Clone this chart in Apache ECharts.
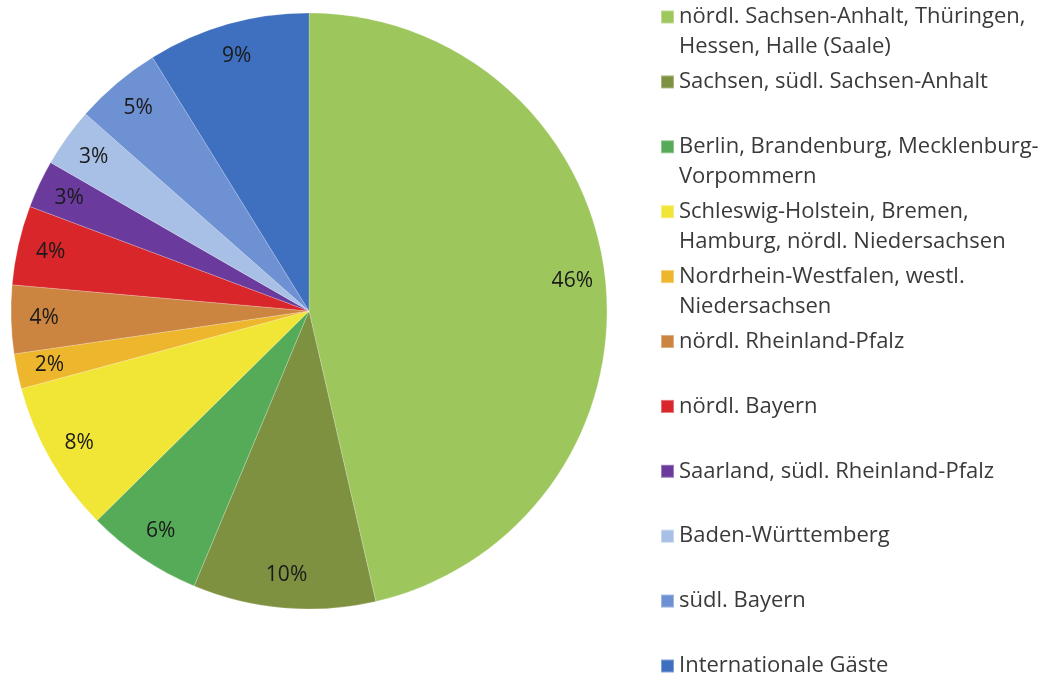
<!DOCTYPE html>
<html>
<head>
<meta charset="utf-8">
<script src="https://cdn.jsdelivr.net/npm/echarts@6/dist/echarts.min.js"></script>
<style>
    html, body { margin: 0; padding: 0; background: #fff; }
    #chart { width: 1051px; height: 679px; }
</style>
</head>
<body>
<div id="chart"></div>
<script>
// Regionen (Legende, im Uhrzeigersinn ab 12 Uhr)
const regions = [
    'nördl. Sachsen-Anhalt, Thüringen,\nHessen, Halle (Saale)',
    'Sachsen, südl. Sachsen-Anhalt',
    'Berlin, Brandenburg, Mecklenburg-\nVorpommern',
    'Schleswig-Holstein, Bremen,\nHamburg, nördl. Niedersachsen',
    'Nordrhein-Westfalen, westl.\nNiedersachsen',
    'nördl. Rheinland-Pfalz',
    'nördl. Bayern',
    'Saarland, südl. Rheinland-Pfalz',
    'Baden-Württemberg',
    'südl. Bayern',
    'Internationale Gäste',
];
// Anteile in %, aus den Segmentwinkeln geschätzt
const shares = [46.4, 9.9, 6.3, 8.2, 1.9, 3.7, 4.3, 2.6, 3.2, 4.7, 8.8];

const palette = [
    '#9dc65c', '#7e9140', '#56ab58', '#f1e536', '#edb62c', '#cc8540',
    '#d8262b', '#6a3a9c', '#a8c0e6', '#6d91d2', '#3f6fbf',
];

const font = '"Open Sans", "Noto Sans", sans-serif';
const data = regions.map((name, i) => ({
    name: name,
    value: shares[i],
    itemStyle: { color: palette[i] },
}));

// eine Legende pro Eintrag, damit die Abstaende gleich bleiben
const legends = regions.map((name, i) => {
    let c = 17 + 64.9 * i;
    let multi = name.indexOf('\n') >= 0;
    return {
        data: [name],
        orient: 'vertical',
        left: 660,
        top: multi ? c - 45 : c - 15,
        padding: 0,
        icon: 'rect',
        itemWidth: 13,
        itemHeight: 13,
        itemGap: 0,
        textGap: 8,
        selectedMode: false,
        formatter: (n) => n.indexOf('\n') >= 0 ? '\n' + n : n,
        textStyle: {
            fontFamily: font,
            fontSize: 22,
            lineHeight: 30,
            color: '#3a3a3a',
        },
    };
});

let myChart = echarts.init(document.getElementById('chart'));
myChart.setOption({
    backgroundColor: '#fff',
    animation: false,
    legend: legends,
    series: [{
        type: 'pie',
        center: [309, 311],
        radius: 298,
        startAngle: 90,
        clockwise: true,
        data: data,
        label: { show: false },
        labelLine: { show: false },
        itemStyle: { borderColor: 'rgba(255,255,255,0.35)', borderWidth: 0.6 },
        emphasis: { disabled: true },
    }, {
        // transparenter Ring, nur fuer die Beschriftung nahe am Rand
        type: 'pie',
        center: [309, 311],
        radius: [226, 298],
        startAngle: 90,
        clockwise: true,
        silent: true,
        data: regions.map((name, i) => ({ name: name, value: shares[i] })),
        itemStyle: { color: 'rgba(0,0,0,0)' },
        label: {
            show: true,
            position: 'inside',
            formatter: (p) => Math.round(p.value) + '%',
            fontFamily: font,
            fontSize: 21,
            color: '#1a1a1a',
        },
        labelLine: { show: false },
        emphasis: { disabled: true },
    }],
});
window.addEventListener('resize', myChart.resize);
</script>
</body>
</html>
